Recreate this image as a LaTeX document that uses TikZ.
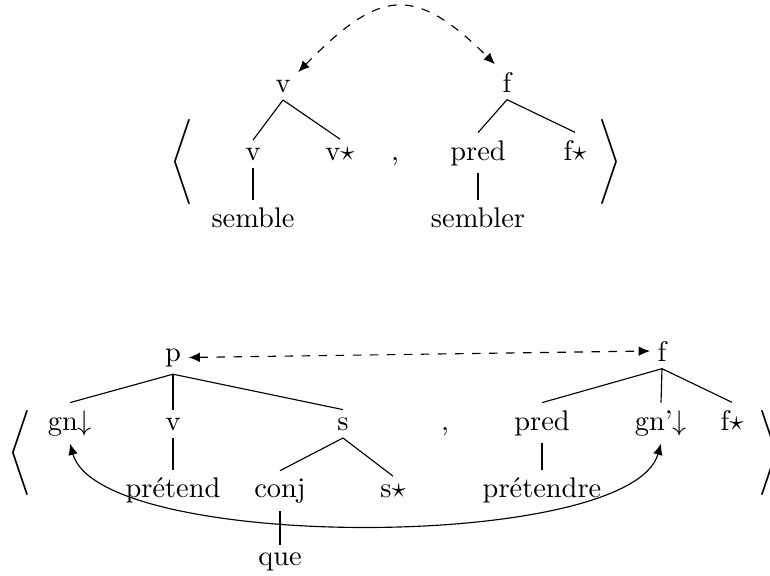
\documentclass[tikz,border=0pt]{standalone}
\usepackage{fontspec}
\usetikzlibrary{arrows.meta}
\begin{document}
\begin{tikzpicture}[x=0.352pt,y=-0.352pt,
  lbl/.style={inner sep=2.5pt,anchor=base},
  brk/.style={inner sep=0pt},
  branch/.style={line width=0.4pt},
  tip/.style={>={Latex[length=4pt,width=3.4pt]}},
  link/.style={tip,<->,dashed},
  subst/.style={tip,<->}]
\useasboundingbox (0,0) rectangle (770,575);

% ---- first pair: "semble" / "sembler" ----
\node[lbl] (vr)  at (283,92)  {v};
\node[lbl] (vc)  at (253,160) {v};
\node[lbl] (vs)  at (340,160) {v$\star$};
\node[lbl] (sem) at (253,227) {semble};
\node[lbl] (c1)  at (395,160) {,};
\node[lbl] (fr)  at (507,92)  {f};
\node[lbl] (pr)  at (478,160) {pred};
\node[lbl] (fs)  at (575,160) {f$\star$};
\node[lbl] (smr) at (478,227) {sembler};
\node[brk] (la1) at (182,162) {$\Bigg\langle$};
\node[brk] (ra1) at (610,162) {$\Bigg\rangle$};

\draw[branch] (vr.south) -- (vc.north);
\draw[branch] (vr.south) -- (vs.north);
\draw[branch] (vc.south) -- (sem.north);
\draw[branch] (fr.south) -- (pr.north);
\draw[branch] (fr.south) -- (fs.north);
\draw[branch] (pr.south) -- (smr.north);
\draw[link] (vr.north east) .. controls (379,-10) and (413,-17) .. (fr.north west);

% ---- second pair: "prétend" / "prétendre" ----
\node[lbl] (p)    at (173,361) {p};
\node[lbl] (gn)   at (70,430)  {gn$\downarrow$};
\node[lbl] (v2)   at (173,430) {v};
\node[lbl] (s)    at (343,430) {s};
\node[lbl] (pret) at (173,497) {prétend};
\node[lbl] (conj) at (280,497) {conj};
\node[lbl] (ss)   at (393,497) {s$\star$};
\node[lbl] (que)  at (280,565) {que};
\node[lbl] (c2)   at (445,430) {,};
\node[lbl] (f2)   at (662,361) {f};
\node[lbl] (pr2)  at (542,430) {pred};
\node[lbl] (gnp)  at (661,430) {gn’$\downarrow$};
\node[lbl] (fs2)  at (732,430) {f$\star$};
\node[lbl] (pdr)  at (542,497) {prétendre};
\node[brk] (la2)  at (20,453)  {$\Bigg\langle$};
\node[brk] (ra2)  at (770,453) {$\Bigg\rangle$};

\draw[branch] (p.south) -- (gn.north);
\draw[branch] (p.south) -- (v2.north);
\draw[branch] (p.south) -- (s.north);
\draw[branch] (v2.south) -- (pret.north);
\draw[branch] (s.south) -- (conj.north);
\draw[branch] (s.south) -- (ss.north);
\draw[branch] (conj.south) -- (que.north);
\draw[branch] (f2.south) -- (pr2.north);
\draw[branch] (f2.south) -- (gnp.north);
\draw[branch] (f2.south) -- (fs2.north);
\draw[branch] (pr2.south) -- (pdr.north);
\draw[link] (p.east) -- (f2.west);
\draw[subst] (gn.south) .. controls (100,552) and (630,552) .. (gnp.south);
\end{tikzpicture}
\end{document}
